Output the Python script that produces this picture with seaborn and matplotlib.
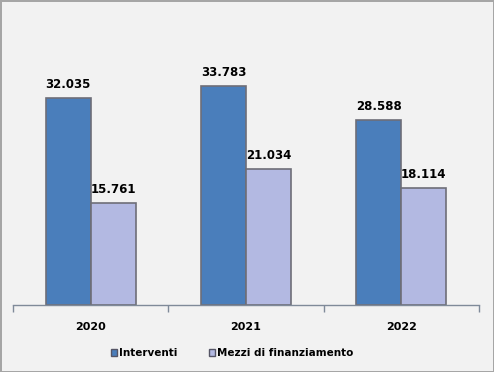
import matplotlib
matplotlib.use("Agg")
import matplotlib.pyplot as plt
import seaborn as sns
import pandas as pd
from matplotlib.patches import Patch
from matplotlib.ticker import FixedLocator

years = ["2020", "2021", "2022"]
interventi = [32.035, 33.783, 28.588]
mezzi = [15.761, 21.034, 18.114]
series_names = ["Interventi", "Mezzi di finanziamento"]
colors = ["#4a7ebb", "#b3b9e2"]

df = pd.DataFrame({
    "Anno": years * 2,
    "Valore": interventi + mezzi,
    "Serie": [series_names[0]] * 3 + [series_names[1]] * 3,
})

sns.set_theme(style="white")
plt.rcParams['font.family'] = ['DejaVu Sans']
plt.rcParams['text.color'] = 'black'
plt.rcParams['xtick.color'] = 'black'

fig = plt.figure(figsize=(4.94, 3.72), dpi=100)
fig.patch.set_facecolor("#f2f2f2")
fig.patch.set_edgecolor("#a6a6a6")
fig.patch.set_linewidth(2)

ax = fig.add_axes([13/494, 67/372, 466/494, 259/372])
ax.set_facecolor("#f2f2f2")
sns.barplot(data=df, x="Anno", y="Valore", hue="Serie", palette=colors,
            saturation=1, width=0.58, edgecolor="#6e6e78", linewidth=1.2,
            ax=ax, legend=False)

ax.set_xlim(-0.5, 2.5)
ax.set_ylim(0, 40)
ax.set_xlabel("")
ax.set_ylabel("")
ax.set_yticks([])
for s in ["top", "left", "right"]:
    ax.spines[s].set_visible(False)
ax.spines["bottom"].set_color("#7f8a99")
ax.spines["bottom"].set_linewidth(1)

ax.tick_params(axis="x", which="major", length=0, pad=12, labelcolor="black")
ax.xaxis.set_minor_locator(FixedLocator([-0.5, 0.5, 1.5, 2.5]))
ax.tick_params(axis="x", which="minor", length=5, width=1, color="#7f8a99", bottom=True)
for lbl in ax.get_xticklabels():
    lbl.set_fontweight("bold")
    lbl.set_fontsize(8)
    lbl.set_color("black")

for cont in ax.containers:
    labels = [f"{v:.3f}" for v in cont.datavalues]
    ax.bar_label(cont, labels=labels, padding=5, fontsize=8.5, fontweight="bold", color="black")

handles = [Patch(facecolor=c, edgecolor="#555566") for c in colors]
fig.legend(handles, series_names, loc="center", bbox_to_anchor=(232/494, 1 - 353/372),
           ncol=2, frameon=False, handlelength=0.6, handleheight=0.6,
           handletextpad=0.2, columnspacing=3, labelcolor="black",
           prop={"size": 7.5, "weight": "bold"})

fig.savefig("out.png", dpi=100, facecolor=fig.get_facecolor(), edgecolor=fig.get_edgecolor())
